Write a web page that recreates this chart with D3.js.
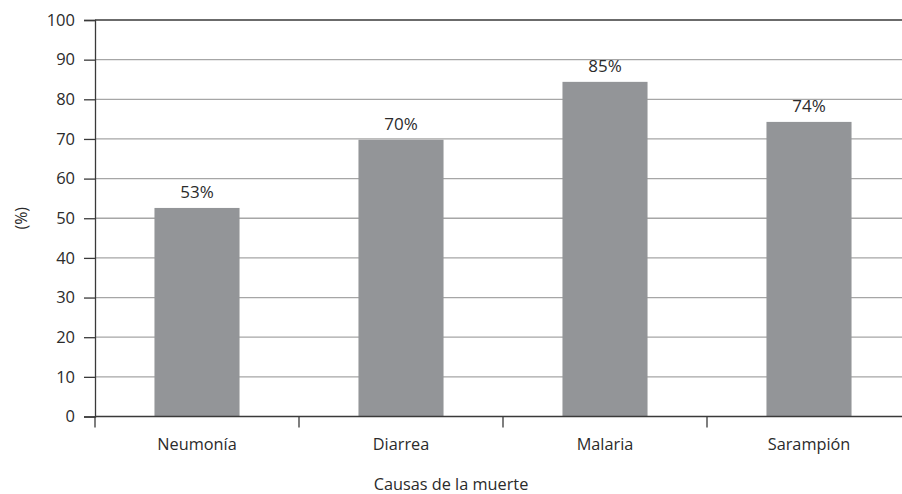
<!DOCTYPE html>
<html><head><meta charset="utf-8">
<script src="https://cdn.jsdelivr.net/npm/d3@7"></script>
<style>
html,body{margin:0;padding:0;background:#fff;}
svg{display:block;font-family:"Open Sans",sans-serif;}
</style></head>
<body>
<svg id="c" width="902" height="494"></svg>
<script>
const categories = ["Neumonía", "Diarrea", "Malaria", "Sarampión"];
const values = [52.6, 69.8, 84.4, 74.3];
const valueLabels = ["53%", "70%", "85%", "74%"];
const yTicks = [0, 10, 20, 30, 40, 50, 60, 70, 80, 90, 100];

const svg = d3.select("#c");
const W = 902;
const x0 = 95, x1 = 911, yTop = 20, yBot = 416.5;

const x = d3.scaleBand().domain(categories).range([x0, x1]).paddingInner(0.583).paddingOuter(0.2915);
const y = d3.scaleLinear().domain([0, 100]).range([yBot, yTop]);

// gridlines
svg.append("g").selectAll("line").data(yTicks.filter(d => d > 0 && d < 100)).join("line")
  .attr("x1", x0).attr("x2", W).attr("y1", d => y(d)).attr("y2", d => y(d))
  .attr("stroke", "#a6a6a6").attr("stroke-width", 1.3);
// top line
svg.append("line").attr("x1", x0).attr("x2", W).attr("y1", y(100)).attr("y2", y(100))
  .attr("stroke", "#3a3a3a").attr("stroke-width", 1.3);

// bars
svg.append("g").selectAll("rect").data(values).join("rect")
  .attr("x", (d, i) => x(categories[i])).attr("width", x.bandwidth())
  .attr("y", d => y(d)).attr("height", d => y(0) - y(d))
  .attr("fill", "#939598");

// value labels
svg.append("g").selectAll("text").data(values).join("text")
  .attr("x", (d, i) => x(categories[i]) + x.bandwidth() / 2)
  .attr("y", d => y(d) - 10)
  .attr("text-anchor", "middle").attr("font-size", 17).attr("fill", "#2b2b2b")
  .text((d, i) => valueLabels[i]);

// y axis
const yAxis = d3.axisLeft(y).tickValues(yTicks).tickSize(11).tickPadding(9);
const gy = svg.append("g").attr("transform", `translate(${x0},0)`).call(yAxis);
gy.select(".domain").attr("stroke", "#3a3a3a").attr("stroke-width", 1.3);
gy.selectAll(".tick line").attr("stroke", "#3a3a3a").attr("stroke-width", 1.3);
gy.selectAll(".tick text").attr("font-size", 16.5).attr("fill", "#2b2b2b").attr("font-family", "Open Sans, sans-serif");

// x axis
const xAxis = d3.axisBottom(x).tickSize(0).tickPadding(22);
const gx = svg.append("g").attr("transform", `translate(0,${yBot})`).call(xAxis);
gx.select(".domain").remove();
gx.append("line").attr("x1", x0).attr("x2", W).attr("y1", 0).attr("y2", 0)
  .attr("stroke", "#3a3a3a").attr("stroke-width", 1.3);
gx.selectAll(".tick text").attr("font-size", 16.3).attr("fill", "#2b2b2b").attr("font-family", "Open Sans, sans-serif");
// boundary ticks
const bounds = categories.map(c => x(c) - x.step() * x.paddingInner() / 2);
gx.selectAll(".bt").data(bounds).join("line").attr("class", "bt")
  .attr("x1", d => d).attr("x2", d => d).attr("y1", 0).attr("y2", 11)
  .attr("stroke", "#3a3a3a").attr("stroke-width", 1.3);

// axis titles
svg.append("text").attr("transform", `translate(27,${(yTop + yBot) / 2}) rotate(-90)`)
  .attr("text-anchor", "middle").attr("font-size", 16).attr("fill", "#2b2b2b").text("(%)");
svg.append("text").attr("x", 451).attr("y", 490)
  .attr("text-anchor", "middle").attr("font-size", 16.3).attr("fill", "#2b2b2b").text("Causas de la muerte");
</script>
</body></html>
